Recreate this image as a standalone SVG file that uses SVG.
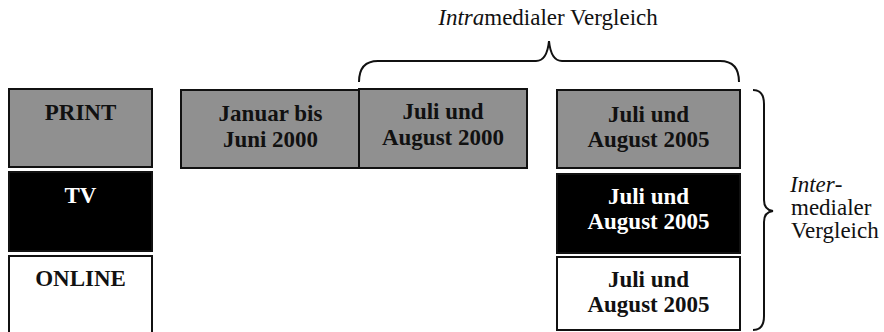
<svg xmlns="http://www.w3.org/2000/svg" width="884" height="332" viewBox="0 0 884 332">
<style>
.box{stroke:#111;stroke-width:2}
.gray{fill:#909090}
.black{fill:#000}
.white{fill:#fff}
.lbl{font-family:"Liberation Serif","Times New Roman",serif;font-weight:bold;font-size:23px;text-anchor:middle;fill:#111}
.inv{fill:#fff}
.note{font-family:"Liberation Serif","Times New Roman",serif;font-size:23px;fill:#111}
.brace{fill:none;stroke:#111;stroke-width:2}
</style>
<rect width="884" height="332" fill="#fff"/>
<g id="print">
<rect class="box gray" x="9" y="89" width="143" height="78"/>
<text class="lbl" x="80.5" y="120">PRINT</text>
</g>
<g id="tv">
<rect class="box black" x="9" y="172" width="143" height="79"/>
<text class="lbl inv" x="80.5" y="203">TV</text>
</g>
<g id="online">
<rect class="box white" x="9" y="256" width="143" height="80"/>
<text class="lbl" x="80.5" y="286">ONLINE</text>
</g>
<g id="jan2000">
<rect class="box gray" x="181" y="90" width="179" height="78"/>
<text class="lbl" x="270.5" y="121">Januar bis</text>
<text class="lbl" x="270.5" y="147">Juni 2000</text>
</g>
<g id="jul2000">
<rect class="box gray" x="359" y="89" width="168" height="79"/>
<text class="lbl" x="443" y="119">Juli und</text>
<text class="lbl" x="443" y="145">August 2000</text>
</g>
<g id="print2005">
<rect class="box gray" x="557" y="90" width="183" height="78"/>
<text class="lbl" x="648.5" y="122">Juli und</text>
<text class="lbl" x="648.5" y="147">August 2005</text>
</g>
<g id="tv2005">
<rect class="box black" x="557" y="174" width="183" height="79"/>
<text class="lbl inv" x="648.5" y="204">Juli und</text>
<text class="lbl inv" x="648.5" y="229">August 2005</text>
</g>
<g id="online2005">
<rect class="box white" x="557" y="257" width="183" height="73"/>
<text class="lbl" x="648.5" y="287">Juli und</text>
<text class="lbl" x="648.5" y="312">August 2005</text>
</g>
<g id="connectors">
<path class="brace" d="M359,82 Q359,61 378,61 L536,61 Q547,61 549,41 Q551,61 562,61 L720,61 Q739,61 739,82"/>
<path class="brace" d="M753,90 Q764,90 764,104 L764,200 Q764,210 773,211 Q764,212 764,222 L764,316 Q764,330 753,330"/>
</g>
<g id="intra-label">
<text class="note" x="548" y="25" text-anchor="middle"><tspan font-style="italic">Intra</tspan>medialer Vergleich</text>
</g>
<g id="inter-label">
<text class="note" x="790" y="192"><tspan font-style="italic">Inter</tspan>-</text>
<text class="note" x="791" y="215">medialer</text>
<text class="note" x="791" y="238">Vergleich</text>
</g>
</svg>
